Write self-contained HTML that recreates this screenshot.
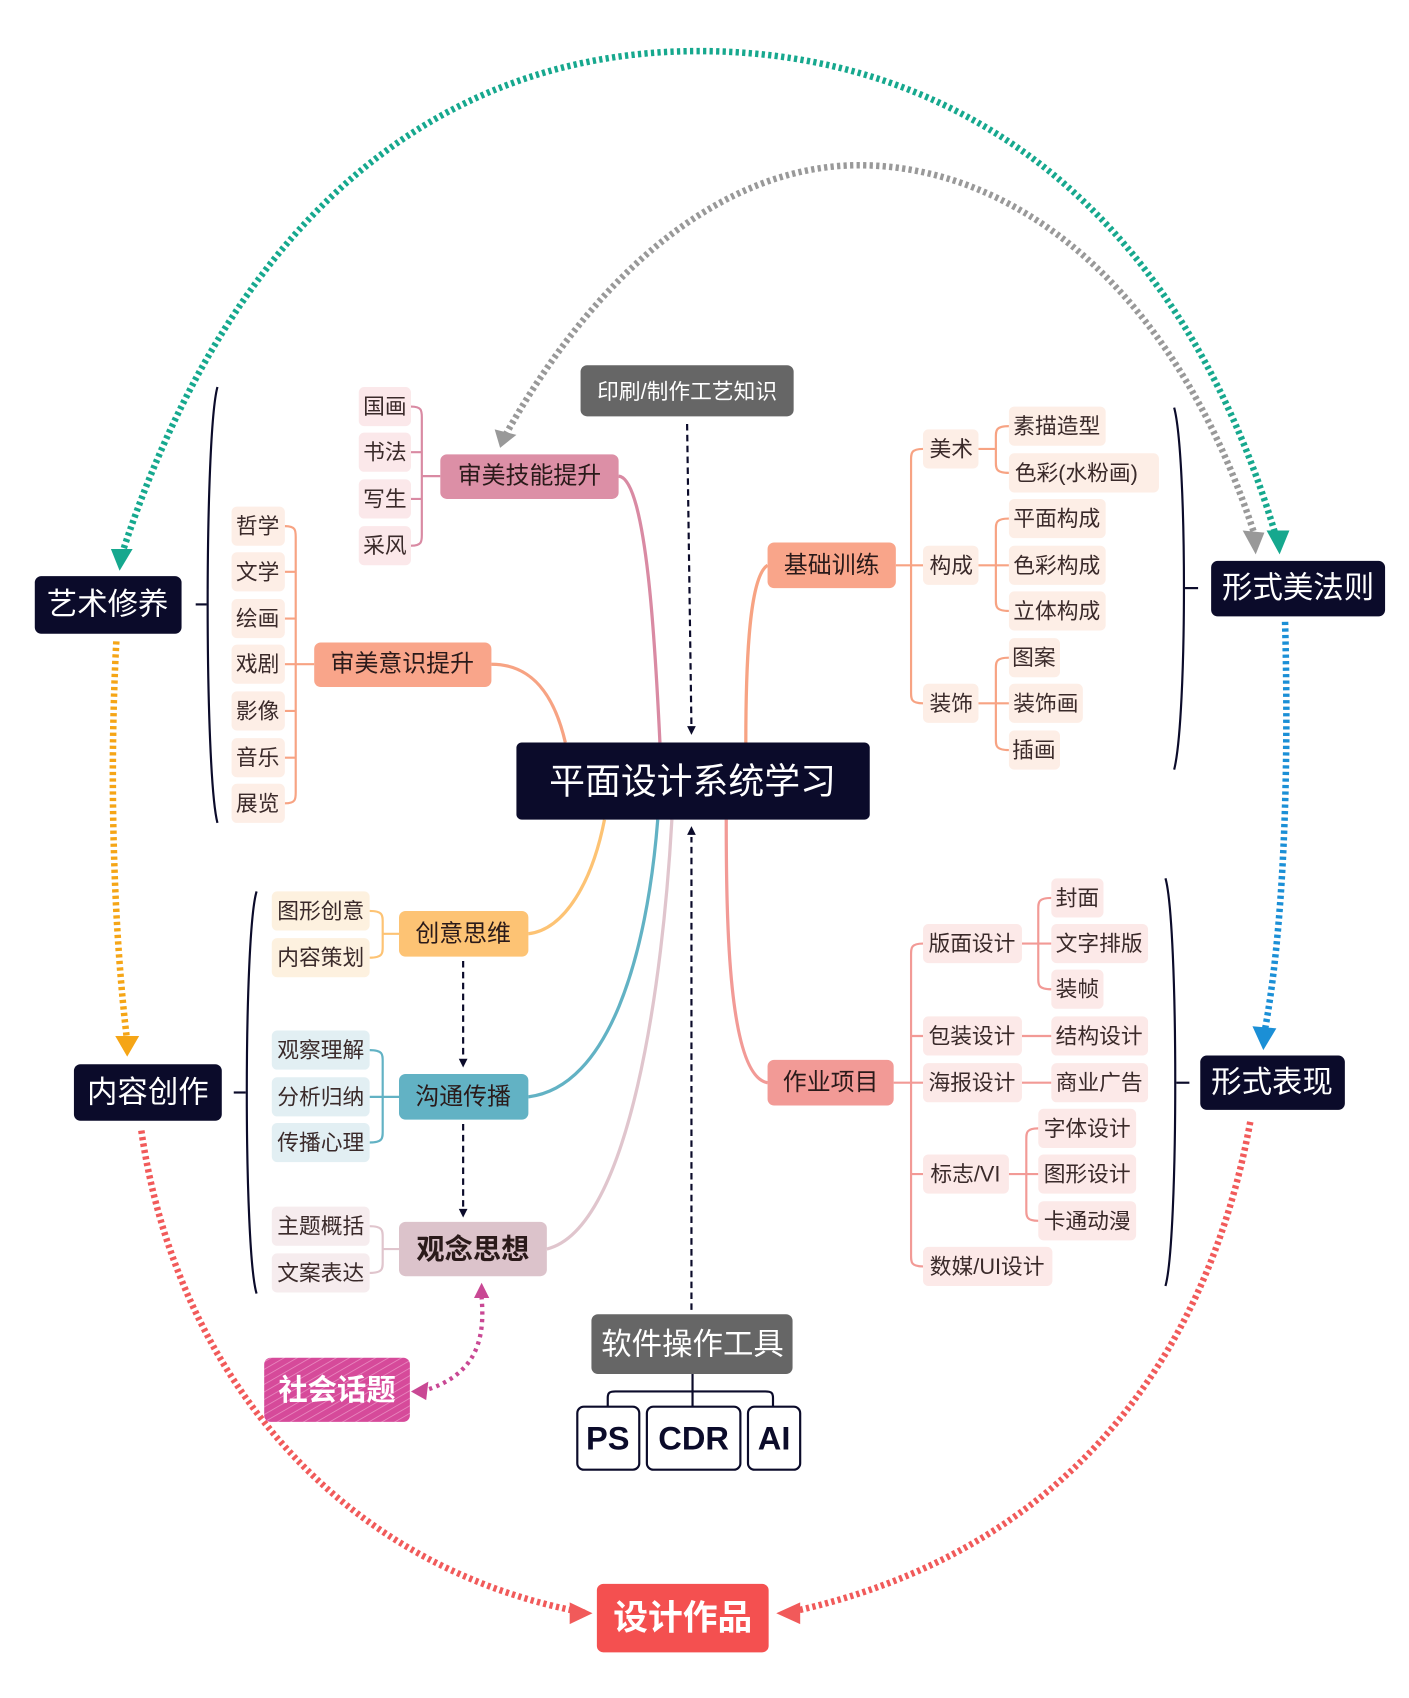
<!DOCTYPE html>
<html><head><meta charset="utf-8"><style>
html,body{margin:0;padding:0;background:#fff;width:1409px;height:1698px;overflow:hidden}
svg{display:block}
text{font-family:"Liberation Sans","Noto Sans CJK SC",sans-serif;dominant-baseline:central;text-anchor:middle}
</style></head><body>
<svg width="1409" height="1698" viewBox="0 0 1296 1562" preserveAspectRatio="none" xmlns="http://www.w3.org/2000/svg">
<defs>
<pattern id="hatch" width="6" height="6" patternUnits="userSpaceOnUse" patternTransform="rotate(60)">
<rect width="6" height="6" fill="#d64a9a"/><line x1="0" y1="0" x2="0" y2="6" stroke="#e98ac0" stroke-width="1.5"/></pattern>
</defs>
<g fill="none" stroke-width="6" stroke-dasharray="3 3">
<path d="M112,510 C220,180 420,48 640,47 C860,46 1080,170 1175,498" stroke="#16a88e"/>
<path d="M465,400 C560,230 680,152 790,152 C930,152 1080,260 1155,495" stroke="#999"/>
<path d="M107,590 C100,720 105,860 117,958" stroke="#f5a516"/>
<path d="M1182,572 C1186,720 1180,860 1163,950" stroke="#1b8fd6"/>
<path d="M130,1040 C160,1250 300,1440 540,1484" stroke="#f15a5a"/>
<path d="M1150,1032 C1110,1250 980,1430 722,1484" stroke="#f15a5a"/>
<path d="M388,1280 C440,1265 446,1230 443,1194" stroke="#c94894" stroke-width="4" stroke-dasharray="3 4"/>
</g>
<g>
<polygon points="102,505 122,505 110,525" fill="#16a88e"/>
<polygon points="1165,488 1186,488 1177,510" fill="#16a88e"/>
<polygon points="455,395 475,400 460,412" fill="#999"/>
<polygon points="1143,488 1163,490 1155,510" fill="#999"/>
<polygon points="106,953 128,953 117,972" fill="#f5a516"/>
<polygon points="1152,944 1174,946 1162,966" fill="#1b8fd6"/>
<polygon points="524,1474 545,1484 524,1494" fill="#f15a5a"/>
<polygon points="736,1474 714,1484 736,1494" fill="#f15a5a"/>
<polygon points="378,1280 394,1271 392,1288" fill="#c94894"/>
<polygon points="443,1180 436,1194 450,1194" fill="#c94894"/>
</g>
<g fill="none" stroke-width="3">
<path d="M569,438 C595,440 603,600 607,683" stroke="#d98aa3"/>
<path d="M452,611 C490,611 510,640 520,683" stroke="#f7a383"/>
<path d="M706,520 C690,530 686,600 686,683" stroke="#f7a383"/>
<path d="M486,859 C520,855 545,810 556,754" stroke="#fdc374"/>
<path d="M486,1009 C560,1000 595,880 605,754" stroke="#62b2c4"/>
<path d="M503,1149 C580,1130 610,900 618,754" stroke="#e0c5cd"/>
<path d="M706,996 C670,990 668,850 668,754" stroke="#f29a96"/>
</g>
<g stroke="#0b0b2a" stroke-width="2" stroke-dasharray="6 4" fill="none">
<line x1="632" y1="390" x2="636" y2="670"/>
<line x1="636" y1="1205" x2="636" y2="770"/>
<line x1="426" y1="884" x2="426" y2="974"/>
<line x1="426" y1="1034" x2="426" y2="1112"/>
</g>
<g fill="#0b0b2a">
<polygon points="632,676 640,676 636,668" transform="rotate(180 636 672)"/>
<polygon points="632,768 640,768 636,760"/>
<polygon points="422,974 430,974 426,982"/>
<polygon points="422,1112 430,1112 426,1120"/>
</g>
<g fill="none" stroke="#0b0b2a" stroke-width="2">
<path d="M200,356 C188,400 188,710 200,757"/><line x1="180" y1="556" x2="190" y2="556"/>
<path d="M236,820 C224,860 224,1150 236,1190"/><line x1="215" y1="1005" x2="226" y2="1005"/>
<path d="M1080,375 C1092,420 1092,660 1080,708"/><line x1="1090" y1="541" x2="1102" y2="541"/>
<path d="M1072,808 C1084,850 1084,1140 1072,1183"/><line x1="1082" y1="996" x2="1094" y2="996"/>
</g>
<g fill="none" stroke-width="2">
<path d="M378,374 C388,374 388,378 388,384 L388,492 C388,498 388,502 378,502 M378,416 C388,416 388,416 388,416 M378,459 L388,459 M388,438 L405,438" stroke="#d98aa3"/>
<path d="M262,484 C272,484 272,488 272,494 L272,729 C272,735 272,739 262,739 M262,526 L272,526 M262,569 L272,569 M262,611 L289,611 M262,654 L272,654 M262,697 L272,697" stroke="#f7a383"/>
<path d="M824,520 L849,520 M849,413 C838,413 838,417 838,423 L838,637 C838,643 838,647 849,647 M900,413 L916,413 M928,392 C916,392 916,396 916,402 L916,425 C916,431 916,435 928,435 M900,520 L928,520 M928,477 C916,477 916,481 916,487 L916,552 C916,558 916,562 928,562 M900,647 L928,647 M928,605 C916,605 916,609 916,615 L916,680 C916,686 916,690 928,690" stroke="#f7a383"/>
<path d="M822,996 L849,996 M849,868 C838,868 838,872 838,878 L838,1155 C838,1161 838,1165 849,1165 M849,953 L838,953 M849,1080 L838,1080 M940,868 L967,868 M967,826 C955,826 955,830 955,836 L955,900 C955,906 955,910 967,910 M940,953 L967,953 M940,996 L967,996 M928,1080 L955,1080 M955,1038 C944,1038 944,1042 944,1048 L944,1113 C944,1119 944,1123 955,1123" stroke="#f29a96"/>
<path d="M340,838 C352,838 352,842 352,848 L352,871 C352,877 352,881 340,881 M352,859 L367,859" stroke="#fdc374"/>
<path d="M340,966 C352,966 352,970 352,976 L352,1041 C352,1047 352,1051 340,1051 M340,1009 L367,1009" stroke="#62b2c4"/>
<path d="M340,1128 C352,1128 352,1132 352,1138 L352,1161 C352,1167 352,1171 340,1171 M352,1149 L367,1149" stroke="#e0c5cd"/>
<path d="M637,1264 L637,1280 M559,1294 L559,1286 C559,1281 561,1280 566,1280 L704,1280 C709,1280 711,1281 711,1286 L711,1294 M637,1280 L637,1294" stroke="#0b0b2a"/>
</g>
<g fill="#0b0b2a">
<rect x="475" y="683" width="325" height="71" rx="5"/>
<rect x="32" y="530" width="135" height="53" rx="6"/>
<rect x="1114" y="516" width="160" height="51" rx="6"/>
<rect x="68" y="979" width="136" height="52" rx="6"/>
<rect x="1104" y="971" width="133" height="50" rx="6"/>
</g>
<g fill="#fff" font-size="28">
<text x="637" y="719" font-size="33">平面设计系统学习</text>
<text x="99" y="556">艺术修养</text>
<text x="1194" y="541">形式美法则</text>
<text x="136" y="1005">内容创作</text>
<text x="1170" y="996">形式表现</text>
</g>
<rect x="549" y="1457" width="158" height="63" rx="6" fill="#f45050"/>
<text x="628" y="1489" fill="#fff" font-size="32" font-weight="bold">设计作品</text>
<rect x="534" y="336" width="196" height="47" rx="6" fill="#666"/>
<text x="632" y="360" fill="#fff" font-size="20">印刷/制作工艺知识</text>
<rect x="544" y="1209" width="185" height="55" rx="6" fill="#666"/>
<text x="637" y="1237" fill="#fff" font-size="28">软件操作工具</text>
<g fill="#fff" stroke="#0b0b2a" stroke-width="2">
<rect x="531" y="1294" width="57" height="58" rx="6"/>
<rect x="595" y="1294" width="86" height="58" rx="6"/>
<rect x="688" y="1294" width="48" height="58" rx="6"/>
</g>
<g fill="#0b0b2a" font-size="30" font-weight="bold">
<text x="559" y="1323">PS</text><text x="638" y="1323">CDR</text><text x="712" y="1323">AI</text>
</g>
<rect x="243" y="1249" width="134" height="59" rx="6" fill="url(#hatch)"/>
<text x="310" y="1279" fill="#fff" font-size="27" font-weight="bold">社会话题</text>
<g>
<rect x="405" y="418" width="164" height="41" rx="6" fill="#dc8fa6"/>
<rect x="289" y="591" width="163" height="41" rx="6" fill="#f9a58a"/>
<rect x="706" y="499" width="118" height="42" rx="6" fill="#f9a58a"/>
<rect x="706" y="975" width="116" height="42" rx="6" fill="#f29a96"/>
<rect x="367" y="838" width="119" height="42" rx="6" fill="#fdc374"/>
<rect x="367" y="988" width="119" height="42" rx="6" fill="#62b2c4"/>
<rect x="367" y="1124" width="136" height="50" rx="6" fill="#dcc3cb"/>
</g>
<g fill="#2a1a1a" font-size="22">
<text x="487" y="438">审美技能提升</text>
<text x="370" y="611">审美意识提升</text>
<text x="765" y="520">基础训练</text>
<text x="764" y="996">作业项目</text>
<text x="426" y="859">创意思维</text>
<text x="426" y="1009">沟通传播</text>
<text x="435" y="1149" font-size="26" font-weight="bold">观念思想</text>
</g>
<g fill="#fbe8ea">
<rect x="330" y="356" width="48" height="36" rx="5"/><rect x="330" y="398" width="48" height="36" rx="5"/><rect x="330" y="441" width="48" height="36" rx="5"/><rect x="330" y="484" width="48" height="36" rx="5"/>
</g>
<g fill="#fdeee6">
<rect x="213" y="466" width="49" height="36" rx="5"/><rect x="213" y="508" width="49" height="36" rx="5"/><rect x="213" y="551" width="49" height="36" rx="5"/><rect x="213" y="593" width="49" height="36" rx="5"/><rect x="213" y="636" width="49" height="36" rx="5"/><rect x="213" y="679" width="49" height="36" rx="5"/><rect x="213" y="721" width="49" height="36" rx="5"/>
<rect x="849" y="395" width="51" height="36" rx="5"/><rect x="849" y="502" width="51" height="36" rx="5"/><rect x="849" y="629" width="51" height="36" rx="5"/>
<rect x="928" y="374" width="89" height="36" rx="5"/><rect x="928" y="417" width="138" height="36" rx="5"/><rect x="928" y="459" width="89" height="36" rx="5"/><rect x="928" y="502" width="89" height="36" rx="5"/><rect x="928" y="544" width="89" height="36" rx="5"/><rect x="928" y="587" width="47" height="36" rx="5"/><rect x="928" y="629" width="68" height="36" rx="5"/><rect x="928" y="672" width="47" height="36" rx="5"/>
</g>
<g fill="#fce9e8">
<rect x="849" y="850" width="91" height="36" rx="5"/><rect x="849" y="935" width="91" height="36" rx="5"/><rect x="849" y="978" width="91" height="36" rx="5"/><rect x="849" y="1062" width="79" height="36" rx="5"/><rect x="849" y="1147" width="119" height="36" rx="5"/>
<rect x="967" y="808" width="48" height="36" rx="5"/><rect x="967" y="850" width="89" height="36" rx="5"/><rect x="967" y="892" width="48" height="36" rx="5"/><rect x="967" y="935" width="89" height="36" rx="5"/><rect x="967" y="978" width="89" height="36" rx="5"/>
<rect x="955" y="1020" width="90" height="36" rx="5"/><rect x="955" y="1062" width="90" height="36" rx="5"/><rect x="955" y="1105" width="90" height="36" rx="5"/>
</g>
<g fill="#fdf1df"><rect x="250" y="820" width="90" height="36" rx="5"/><rect x="250" y="863" width="90" height="36" rx="5"/></g>
<g fill="#e2eff3"><rect x="250" y="948" width="90" height="36" rx="5"/><rect x="250" y="991" width="90" height="36" rx="5"/><rect x="250" y="1033" width="90" height="36" rx="5"/></g>
<g fill="#f6ecee"><rect x="250" y="1110" width="90" height="36" rx="5"/><rect x="250" y="1153" width="90" height="36" rx="5"/></g>
<g fill="#3a2a2a" font-size="20">
<text x="354" y="374">国画</text><text x="354" y="416">书法</text><text x="354" y="459">写生</text><text x="354" y="502">采风</text>
<text x="237" y="484">哲学</text><text x="237" y="526">文学</text><text x="237" y="569">绘画</text><text x="237" y="611">戏剧</text><text x="237" y="654">影像</text><text x="237" y="697">音乐</text><text x="237" y="739">展览</text>
<text x="875" y="413">美术</text><text x="875" y="520">构成</text><text x="875" y="647">装饰</text>
<text x="972" y="392">素描造型</text><text x="990" y="435">色彩(水粉画)</text><text x="972" y="477">平面构成</text><text x="972" y="520">色彩构成</text><text x="972" y="562">立体构成</text><text x="951" y="605">图案</text><text x="962" y="647">装饰画</text><text x="951" y="690">插画</text>
<text x="894" y="868">版面设计</text><text x="894" y="953">包装设计</text><text x="894" y="996">海报设计</text><text x="888" y="1080">标志/VI</text><text x="908" y="1165">数媒/UI设计</text>
<text x="991" y="826">封面</text><text x="1011" y="868">文字排版</text><text x="991" y="910">装帧</text><text x="1011" y="953">结构设计</text><text x="1011" y="996">商业广告</text>
<text x="1000" y="1038">字体设计</text><text x="1000" y="1080">图形设计</text><text x="1000" y="1123">卡通动漫</text>
<text x="295" y="838">图形创意</text><text x="295" y="881">内容策划</text>
<text x="295" y="966">观察理解</text><text x="295" y="1009">分析归纳</text><text x="295" y="1051">传播心理</text>
<text x="295" y="1128">主题概括</text><text x="295" y="1171">文案表达</text>
</g>
</svg>
</body></html>
